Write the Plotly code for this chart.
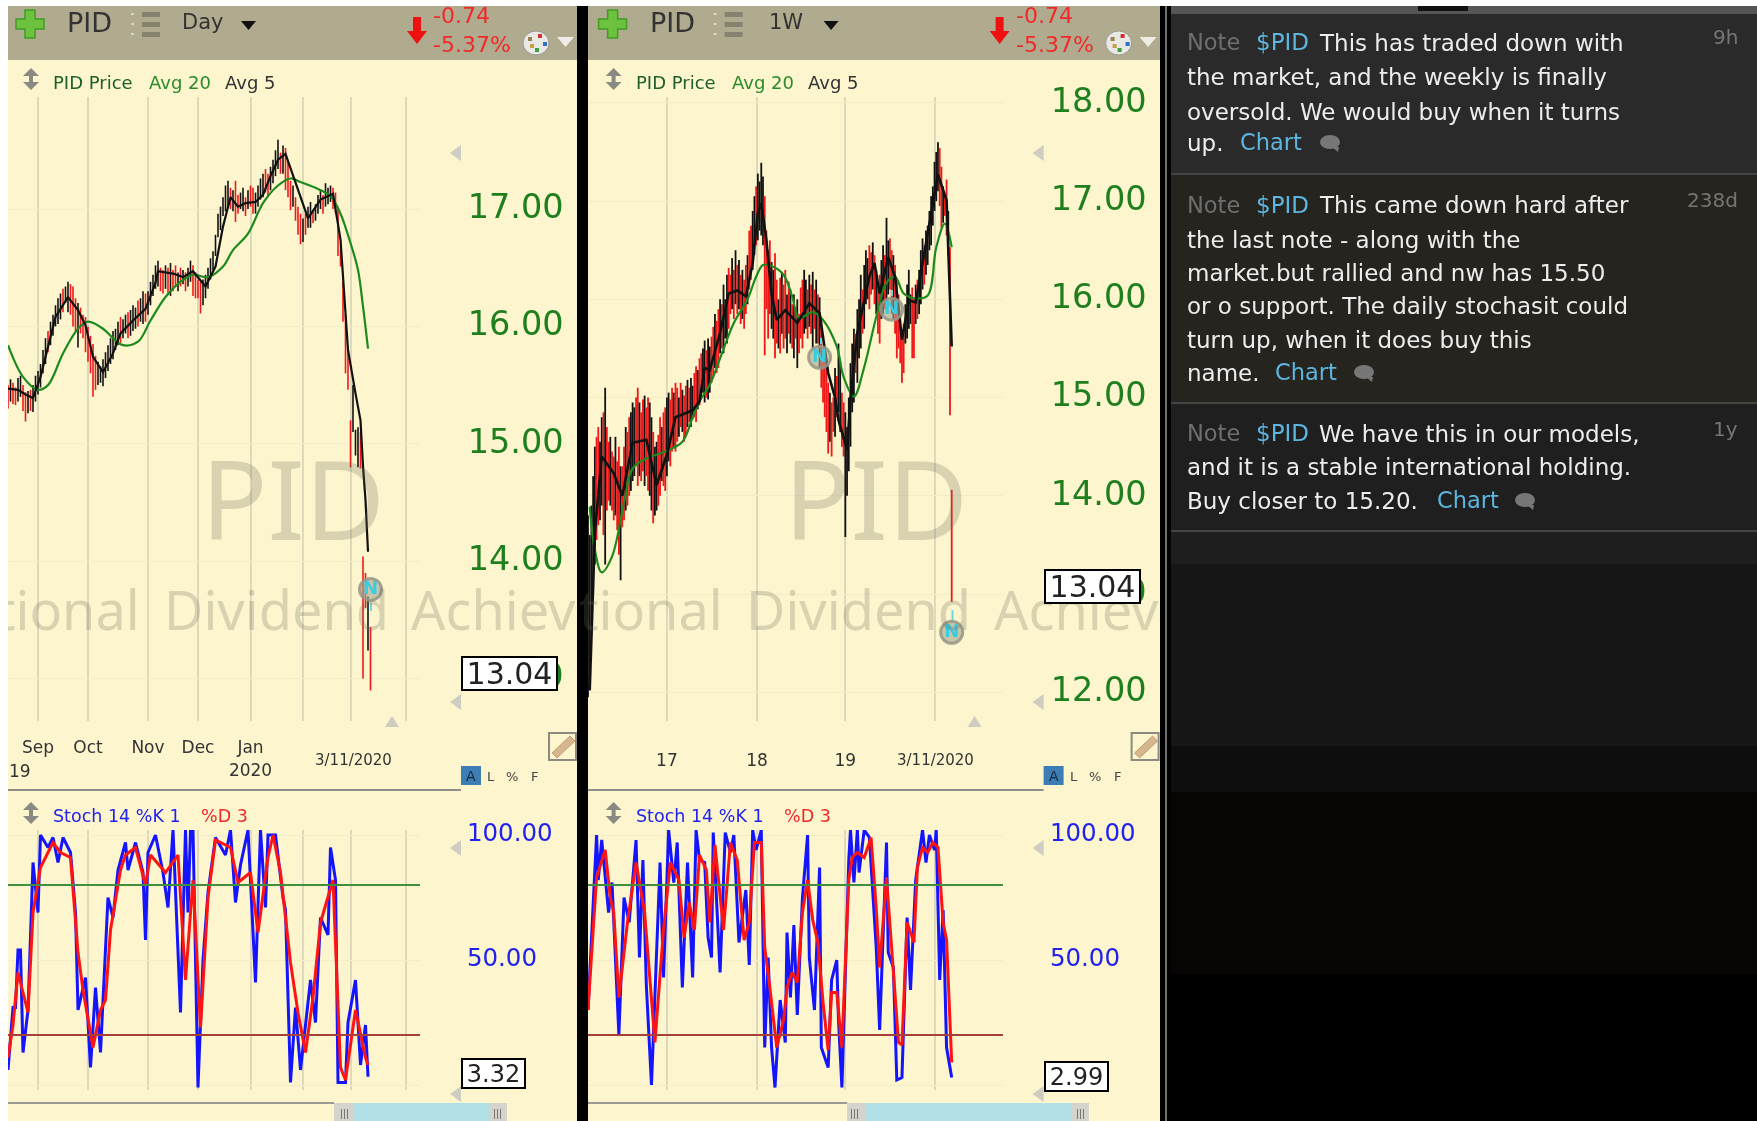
import plotly.graph_objects as go

W, H = 1757, 1121

# ---------- daily chart data (session number, price) ----------
day_high = [15.50,15.55,15.52,15.48,15.56,15.58,15.50,15.44,15.45,15.46,
            15.50,15.58,15.62,15.68,15.80,15.90,15.96,16.04,16.10,16.18,
            16.24,16.28,16.32,16.34,16.38,16.36,16.34,16.24,16.20,16.16,
            16.10,16.08,16.00,15.92,15.85,15.75,15.70,15.66,15.72,15.78,
            15.84,15.90,15.96,15.98,16.04,16.08,16.06,16.10,16.12,16.14,
            16.18,16.16,16.22,16.24,16.30,16.28,16.30,16.38,16.44,16.52,
            16.56,16.50,16.48,16.52,16.50,16.54,16.48,16.52,16.46,16.50,
            16.48,16.46,16.50,16.56,16.52,16.46,16.40,16.38,16.40,16.44,
            16.50,16.58,16.64,16.78,16.96,17.02,17.10,17.20,17.24,17.18,
            17.16,17.24,17.12,17.14,17.18,17.10,17.16,17.20,17.18,17.14,
            17.20,17.26,17.30,17.34,17.30,17.36,17.42,17.50,17.59,17.48,
            17.54,17.52,17.40,17.24,17.20,17.10,17.02,16.96,16.92,16.96,
            17.02,17.06,16.98,17.04,17.12,17.16,17.12,17.22,17.18,17.20,
            17.18,17.14,17.02,16.66,16.38,16.10,15.82,15.20,15.50,15.12,
            15.14,15.10,14.04,13.90,13.70,13.44]
day_low = [15.30,15.36,15.34,15.33,15.36,15.40,15.28,15.19,15.26,15.28,
           15.27,15.36,15.42,15.48,15.60,15.68,15.78,15.84,15.92,16.00,
           16.02,16.06,16.12,16.20,16.12,16.10,16.00,15.96,15.82,15.94,
           15.90,15.78,15.70,15.60,15.40,15.46,15.50,15.52,15.49,15.56,
           15.62,15.68,15.72,15.80,15.84,15.86,15.90,15.94,15.90,15.92,
           15.96,15.98,16.00,16.04,16.02,16.04,16.10,16.18,16.26,16.32,
           16.34,16.30,16.28,16.32,16.28,16.26,16.30,16.34,16.30,16.34,
           16.36,16.30,16.34,16.38,16.26,16.24,16.24,16.11,16.18,16.24,
           16.32,16.40,16.48,16.60,16.76,16.82,16.94,16.98,17.02,17.00,
           16.98,16.89,16.96,17.00,16.98,16.94,17.00,17.02,16.96,16.96,
           17.02,17.08,17.10,17.14,17.10,17.16,17.22,17.28,17.34,17.30,
           17.30,17.16,17.10,16.99,17.02,16.90,16.78,16.70,16.72,16.78,
           16.84,16.84,16.88,16.90,16.96,17.00,16.96,17.02,17.04,17.06,
           17.00,16.96,16.60,16.51,16.04,15.60,15.46,14.80,15.10,14.90,
           14.80,14.79,13.00,13.60,13.24,12.90]
day_dir = ("dudduuddud" "uuuuuuduuu" "uuduudddud" "dddddduuuu" "uuuuuduudu"
           "uuduuduuuu" "uddududdud" "uduudddduu" "uuuuuuuuud" "udduududdu"
           "uuudduuuud" "udddudddud" "uuduuuduuu" "ddddddddu" "u" "udddud")

day_avg5_x = [0,4,7,10,13,16,19,24,28,31,34,38,42,45,50,55,59,60,66,70,74,79,83,86,89,
              92,95,99,102,105,108,111,114,116,120,125,130,133,136,139,141,142,143,144]
day_avg5 = [15.47,15.46,15.42,15.39,15.57,15.83,16.08,16.25,16.14,16.01,15.74,15.61,15.77,
            15.94,16.05,16.15,16.37,16.47,16.45,16.42,16.47,16.34,16.51,16.85,17.10,
            17.02,17.05,17.06,17.12,17.28,17.42,17.47,17.28,17.16,16.92,17.08,17.13,16.74,
            15.80,15.43,15.20,14.81,14.52,14.08]
day_avg20_x = [0,6,12,16,22,28,32,38,42,46,52,57,63,69,74,80,86,90,96,102,108,113,117,123,
               129,133,137,140,142,144]
day_avg20 = [15.84,15.57,15.46,15.50,15.77,15.98,16.04,15.98,15.90,15.84,15.87,16.05,16.25,
             16.38,16.44,16.42,16.51,16.65,16.79,17.05,17.20,17.26,17.23,17.18,17.11,16.96,
             16.71,16.48,16.17,15.81]
day_k_x = [0,2,3,4,5,6,8,10,12,13,16,18,20,22,25,27,28,31,33,35,37,40,42,44,47,48,51,54,55,
           56,59,62,64,66,69,71,72,73,74,76,78,80,83,87,89,91,93,96,99,101,103,104,107,110,
           111,113,115,117,121,123,125,128,129,131,132,135,136,139,141,143,144]
day_k = [6,31,31,54,54,13,30,89,69,100,95,99,89,99,93,69,30,43,7,39,13,75,67,86,97,86,97,85,58,
         93,100,85,71,102,29,102,69,102,102,-1,50,77,99,92,102,73,88,102,41,102,71,100,100,75,
         70,1,31,6,42,25,67,60,95,82,1,1,25,42,8,24,3.32]
day_d_x = [0,2,4,8,10,13,18,21,25,28,30,34,37,39,41,45,47,51,55,57,63,68,71,74,77,80,83,89,92,
           97,100,104,106,109,113,116,119,122,125,130,133,135,139,143,144]
day_d = [11,24,45,29,69,87,97,93,91,53,38,15,30,34,62,86,92,95,80,92,85,92,42,82,23,75,98,95,81,
         85,61,91,100,85,49,29,13,35,65,82,7,2,30,11,8]

# ---------- weekly chart data (week number, price) ----------
wk_high = [13.80,13.60,13.90,14.20,14.50,14.60,14.70,14.55,14.80,14.85,
           15.10,14.70,14.55,14.60,14.45,14.40,14.60,14.35,14.50,14.30,
           14.30,14.50,14.70,14.65,14.80,14.85,14.95,14.90,15.00,15.10,
           14.95,14.85,14.98,15.02,14.90,15.00,14.95,14.80,14.65,14.50,
           14.55,14.62,14.80,14.70,14.85,14.90,15.00,15.05,14.98,15.10,
           15.05,15.15,15.10,15.00,15.15,15.08,15.02,15.12,15.18,15.10,
           15.20,15.12,15.25,15.32,15.28,15.40,15.45,15.50,15.58,15.48,
           15.60,15.52,15.62,15.72,15.85,15.78,15.90,16.00,15.95,16.15,
           16.00,16.25,16.32,16.25,16.42,16.30,16.50,16.35,16.40,16.25,
           16.30,16.20,16.35,16.45,16.70,16.75,16.90,17.05,17.15,17.28,
           17.20,17.39,17.25,17.05,16.70,16.50,16.60,16.38,16.30,16.47,
           16.20,16.00,16.22,16.28,16.15,16.30,16.05,16.18,16.10,15.95,
           16.05,15.92,16.00,15.85,16.12,16.20,16.30,16.20,16.10,16.25,
           16.15,16.28,16.10,16.20,16.05,16.02,15.80,15.50,15.40,15.35,
           15.15,15.05,14.95,15.00,15.30,15.22,15.55,15.38,15.05,14.95,
           14.85,14.70,15.00,15.35,15.55,15.70,15.65,15.90,16.00,16.25,
           16.10,16.35,16.50,16.42,16.55,16.48,16.58,16.45,16.30,16.15,
           16.25,16.40,16.55,16.45,16.83,16.60,16.62,16.50,16.45,16.35,
           16.20,16.05,15.85,15.60,15.75,15.95,16.15,16.30,16.05,16.12,
           16.00,16.15,16.20,16.30,16.50,16.62,16.55,16.70,16.75,16.90,
           17.05,17.15,17.40,17.50,17.60,17.54,17.35,17.15,17.05,17.22,
           16.90,16.53,14.06]
wk_low = [11.95,12.02,12.60,13.00,13.30,13.55,13.70,13.75,13.90,13.60,
          13.30,13.85,13.95,13.90,13.85,13.75,13.80,13.65,13.40,13.14,
          13.68,13.75,13.85,13.90,14.00,14.05,14.15,14.20,14.30,14.10,
          14.20,14.15,14.25,14.10,14.20,14.05,14.00,13.85,13.72,13.80,
          13.85,13.90,14.00,14.15,14.10,14.05,14.20,14.35,14.30,14.45,
          14.50,14.45,14.55,14.60,14.70,14.65,14.55,14.60,14.70,14.75,
          14.70,14.78,14.80,14.75,14.88,14.92,15.00,15.05,14.95,15.00,
          14.98,15.05,15.15,15.20,15.30,15.25,15.30,15.45,15.50,15.45,
          15.60,15.55,15.70,15.85,15.90,15.80,15.95,15.85,15.90,15.75,
          15.80,15.70,15.85,15.95,16.10,16.20,16.30,16.45,16.55,16.60,
          16.70,16.65,16.55,15.43,15.90,15.60,15.85,15.70,15.60,15.40,
          15.55,15.50,15.45,15.65,15.50,15.60,15.45,15.65,15.55,15.50,
          15.40,15.60,15.30,15.45,15.60,15.50,15.65,15.70,15.60,15.72,
          15.65,15.50,15.70,15.55,15.55,15.30,15.10,14.95,14.80,14.65,
          14.43,14.55,14.40,14.65,14.60,14.80,14.85,14.65,14.50,14.40,
          13.58,14.00,14.25,14.50,14.85,14.95,15.25,15.15,15.40,15.50,
          15.65,15.70,15.95,16.00,15.90,16.05,16.10,15.95,15.85,15.65,
          15.55,15.80,15.85,15.90,15.95,16.05,16.10,15.85,15.80,15.65,
          15.40,15.50,15.35,15.15,15.25,15.55,15.60,15.70,15.75,15.40,
          15.40,15.75,15.80,15.85,15.95,16.10,16.15,16.25,16.35,16.50,
          16.55,16.75,16.90,17.00,17.10,16.95,16.73,16.78,16.85,16.65,
          16.45,14.82,12.92]
wk_dir = ("uuuuudduud" "uddudduddu" "ddudduuudd" "uddudduudu" "uddudduudd"
          "uddududdud" "uuddudduud" "uudduddudu" "uuddududud" "uddudduudu"
          "uuudddduud" "dududdudud" "ududdduudu" "dudududddd" "dudduduudd"
          "uuuuuuduuu" "duuuddudud" "duuduuddud" "ddddduuuud" "duduuuduuu"
          "uuuuuddudd" "udd")
wk_avg5_x = [1,4,8,15,20,26,34,40,46,51,61,65,68,71,77,82,87,92,96,99,101,104,107,110,115,122,
             129,135,140,144,146,151,153,157,164,167,170,175,179,183,187,191,196,200,204,209,210,212]
wk_avg5 = [12.02,13.62,14.40,14.23,14.00,14.54,14.57,14.11,14.42,14.80,14.87,14.96,15.30,15.28,
           15.66,16.06,16.09,16.03,16.37,16.88,16.98,16.60,16.06,15.79,15.89,15.76,15.96,15.86,
           15.25,15.00,14.77,14.47,14.98,15.66,16.23,16.37,16.06,16.43,16.23,15.59,15.99,15.97,
           16.47,16.88,17.27,17.01,16.47,15.52]
wk_avg20_x = [1,4,8,14,21,26,34,45,55,61,65,71,77,85,93,98,102,107,114,119,123,131,137,145,149,
              155,161,168,174,179,184,191,198,203,208,212]
wk_avg20 = [13.89,13.45,13.22,13.38,13.93,14.28,14.38,14.45,14.55,14.80,14.96,15.13,15.40,15.76,
            16.00,16.23,16.35,16.34,16.25,16.03,15.81,15.87,15.79,15.52,15.21,15.01,15.31,15.82,
            16.17,16.23,16.06,16.01,16.04,16.53,16.77,16.53]
wk_k_x = [0,5,6,8,12,14,18,21,24,28,30,32,34,37,42,44,47,50,52,55,58,61,63,65,68,70,72,73,77,80,
          83,85,88,92,94,96,98,101,103,105,107,109,112,115,116,118,120,122,125,128,129,132,135,
          136,140,142,145,146,148,152,153,155,157,158,161,164,168,170,174,175,178,180,183,186,
          188,191,195,197,199,202,203,205,207,209,212]
wk_k = [30,100,82,98,69,81,20,75,65,98,51,90,40,0,89,43,102,81,97,39,89,43,102,90,89,59,51,101,45,
        101,93,100,57,78,48,102,94,102,15,51,15,-1,34,17,61,35,64,28,75,100,51,30,87,15,7,42,50,26,
        -1,90,102,81,102,85,102,99,55,22,97,53,47,2,3,67,38,82,102,89,100,94,102,42,70,15,2.99]
wk_d_x = [0,5,10,13,15,18,23,28,33,39,44,48,53,56,59,62,65,69,71,74,79,83,87,91,94,97,101,103,106,
          110,114,116,119,122,125,128,131,134,137,140,142,145,148,152,154,157,161,165,168,170,174,
          178,181,183,186,190,192,195,198,201,204,207,209,212]
wk_d = [30,83,94,75,69,35,65,89,69,17,62,89,82,59,73,62,92,86,65,96,62,97,90,58,65,97,97,55,39,15,
        26,39,45,41,69,82,66,57,33,14,37,37,15,82,91,93,91,99,71,47,83,47,17,16,65,57,87,95,93,97,
        95,65,58,9]

# ---------- axes labels and readouts ----------
price_ticks_day = [13, 14, 15, 16, 17]
price_ticks_wk = [12, 13, 14, 15, 16, 17, 18]
stoch_ticks = [0, 50, 100]
stoch_levels = [80, 20]
day_month_pos = [12, 32, 56, 76, 97, 118, 137, 159]
day_month_lbl = ["Sep", "Oct", "Nov", "Dec", "Jan<br>2020", "", "", ""]
wk_year_pos = [46, 98.5, 150, 202]
wk_year_lbl = ["17", "18", "19", ""]
last_price = "13.04"
change_abs = "-0.74"
change_pct = "-5.37%"
day_notes_x, day_notes_y = [145], [13.76]
wk_notes_x, wk_notes_y = [135, 177, 212], [15.41, 15.90, 12.61]

PANEL, HEAD = "#FCF5CD", "#B0AB8E"
SANS = "DejaVu Sans"
GREEN, BLUE, RED = "#1F7F1F", "#2222EE", "#F02A2A"
TICK_CLEAR = "rgba(0,0,0,0)"


def sx(x): return x / W
def sy(y): return 1 - y / H


shapes, notes = [], []


def rect(x0, y0, x1, y1, fill, line=None, lw=0, layer="below"):
    shapes.append(dict(type="rect", xref="paper", yref="paper", x0=sx(x0), x1=sx(x1),
                       y0=sy(y0), y1=sy(y1), fillcolor=fill, layer=layer,
                       line=dict(color=line or fill, width=lw)))


def poly(pts, fill, line=None, lw=0):
    p = "M" + " L".join(f"{sx(a):.5f},{sy(b):.5f}" for a, b in pts) + " Z"
    shapes.append(dict(type="path", xref="paper", yref="paper", path=p, fillcolor=fill,
                       layer="above", line=dict(color=line or fill, width=lw)))


def oval(x0, y0, x1, y1, fill, line=None, lw=0):
    shapes.append(dict(type="circle", xref="paper", yref="paper", x0=sx(x0), x1=sx(x1),
                       y0=sy(y0), y1=sy(y1), fillcolor=fill, layer="above",
                       line=dict(color=line or fill, width=lw)))


def text(x, y, s, size, color, anchor="left", family=SANS, **kw):
    notes.append(dict(xref="paper", yref="paper", x=sx(x), y=sy(y), text=s, showarrow=False,
                      xanchor=anchor, yanchor="middle", font=dict(size=size, color=color, family=family),
                      borderpad=0, **kw))


def box(x0, y0, x1, y1, s, size):
    notes.append(dict(xref="paper", yref="paper", x=sx((x0 + x1) / 2), y=sy((y0 + y1) / 2), text=s,
                      showarrow=False, xanchor="center", yanchor="middle", width=x1 - x0 - 4,
                      height=y1 - y0 - 4, bgcolor="white", bordercolor="black", borderwidth=2,
                      borderpad=0, font=dict(size=size, color="#222", family=SANS)))


# ---------- page frame ----------
rect(8, 6, W, H, "#000000")
rect(8, 6, 577, H, PANEL)
rect(588, 6, 1160, H, PANEL)
rect(8, 6, 577, 60, HEAD)
rect(588, 6, 1160, 60, HEAD)
rect(1165, 6, 1167, H, "#6E6E6E")
# notes column
rect(1171, 6, W, 14, "#555555")
rect(1418, 6, 1468, 11, "#111111")
rect(1171, 14, W, 174, "#2A2A2A")
rect(1171, 174, W, 403, "#26241E")
rect(1171, 403, W, 531, "#1F1F1F")
rect(1171, 531, W, 564, "#1E1E1E")
rect(1171, 564, W, 746, "#161616")
rect(1171, 746, W, 792, "#0E0E0E")
rect(1171, 792, W, 974, "#080404")
for yy in (174, 403, 531):
    rect(1171, yy - 1, W, yy + 1, "#444444")


def chrome(dx, tf, tfx):
    # plus icon
    cx, cy = 30 + dx, 24
    a, b = 14, 5
    poly([(cx - b, cy - a), (cx + b, cy - a), (cx + b, cy - b), (cx + a, cy - b), (cx + a, cy + b),
          (cx + b, cy + b), (cx + b, cy + a), (cx - b, cy + a), (cx - b, cy + b), (cx - a, cy + b),
          (cx - a, cy - b), (cx - b, cy - b)], "#6CC23E", "#3F9D25", 1.5)
    text(66 + dx, 23, "PID", 27, "#333333")
    # list icon
    for yy in (12, 22, 32):
        rect(142 + dx, yy, 160 + dx, yy + 5, "#85836F", layer="above")
        rect(131 + dx, yy + 1, 134 + dx, yy + 3, "#D8D6C6", layer="above")
    text(tfx, 22, tf, 21, "#333333")
    poly([(241 + dx, 21), (256 + dx, 21), (248.5 + dx, 30)], "#111111")
    # red arrow
    ax = 417 + dx
    poly([(ax - 4, 17), (ax + 4, 17), (ax + 4, 31), (ax + 10, 31), (ax, 44), (ax - 10, 31), (ax - 4, 31)],
         "#EE1111")
    text(432 + dx, 16, change_abs, 22, RED)
    text(432 + dx, 44, change_pct, 22, RED)
    # colour wheel + menu arrow
    oval(523 + dx, 31, 549 + dx, 55, "#E8E8E4", "#9A9A90", 1)
    for (qx, qy, col) in ((528, 37, "#A08050"), (538, 34, "#D03030"), (543, 42, "#3070C0"),
                          (535, 48, "#40A040"), (530, 44, "#C8A040")):
        rect(qx + dx, qy, qx + dx + 4, qy + 4, col, layer="above")
    poly([(557 + dx, 37), (574 + dx, 37), (565.5 + dx, 47)], "#EDEDE6")

    def updown(y0):
        poly([(31 + dx, y0), (39 + dx, y0 + 8), (23 + dx, y0 + 8)], "#8A8A84")
        poly([(31 + dx, y0 + 22), (39 + dx, y0 + 14), (23 + dx, y0 + 14)], "#8A8A84")
        rect(29 + dx, y0 + 6, 33 + dx, y0 + 16, "#8A8A84", layer="above")

    updown(68)
    updown(802)
    text(52 + dx, 83, "PID Price", 18, "#1D5F2A")
    text(148 + dx, 83, "Avg 20", 18, "#2B8B2B")
    text(224 + dx, 83, "Avg 5", 18, "#333333")
    text(52 + dx, 816, "Stoch 14 %K 1", 17.5, BLUE)
    text(200 + dx, 816, "%D 3", 17.5, RED)
    # grey side / bottom arrows
    for yc in (153, 702, 848, 1094):
        poly([(461 + dx, yc - 8), (461 + dx, yc + 8), (450 + dx, yc)], "#CFCDC2")
    poly([(385 + dx, 727), (399 + dx, 727), (392 + dx, 716)], "#CFCDC2")
    # pencil
    rect(549 + dx, 733, 576 + dx, 760, "rgba(0,0,0,0)", "#8A8A80", 2, layer="above")
    poly([(552 + dx, 753), (570 + dx, 736), (575 + dx, 741), (557 + dx, 758)], "#D6B68E", "#C49F70", 1)
    # scale switch
    rect(461 + dx, 766, 481 + dx, 785, "#3C7DB5", layer="above")
    text(471 + dx, 776, "A", 14, "#1A2A3A", anchor="center")
    text(486 + dx, 776, "L", 13, "#444444")
    text(505 + dx, 776, "%", 13, "#444444")
    text(530 + dx, 776, "F", 13, "#444444")
    rect(8 + dx if dx == 0 else 588, 789, 461 + dx, 791, "#8F8F88")
    text(dx + 353, 760, "3/11/2020", 15, "#333333", anchor="center")
    wm = "rgba(108,109,93,0.25)"
    text(293 + dx, 497, "PID", 110, wm, anchor="center", family="Noto Sans")
    text(141 + dx, 609, "tional", 54, wm, anchor="right", family="Noto Sans")
    text(276 + dx, 609, "Dividend", 54, wm, anchor="center", family="Noto Sans")
    text(410 + dx, 609, "Achiev", 54, wm, anchor="left", family="Noto Sans")


chrome(0, "Day", 181)
chrome(582.6, "1W", 768)
text(8, 771, "19", 17, "#333333")

# scrollers
rect(8, 1102, 334, 1104, "#9A9A92")
rect(334, 1103, 354, H, "#D4D4CC")
rect(354, 1103, 490, H, "#B0DFE6")
rect(490, 1103, 507, H, "#D4D4CC")
rect(588, 1102, 847, 1104, "#9A9A92")
rect(847, 1103, 866, H, "#D4D4CC")
rect(866, 1103, 1071, H, "#B0DFE6")
rect(1071, 1103, 1089, H, "#D4D4CC")
for gx in (341, 344, 347, 494, 497, 500, 851, 854, 857, 1077, 1080, 1083):
    rect(gx, 1109, gx + 1, 1119, "#777770", layer="above")

# small cyan note stems
for x0, y0, x1, y1 in ((370, 603, 372, 611), (951.5, 610, 953.5, 620), (820, 338, 822, 344), (891, 290, 893, 296)):
    rect(x0, y0, x1, y1, "#6CD6E4", layer="above")

box(461, 656, 558, 691, last_price, 30)
box(1044, 569, 1141, 604, last_price, 30)
box(461, 1058, 526, 1089, "3.32", 24)
box(1044, 1061, 1109, 1092, "2.99", 24)

# ---------- notes column ----------
NOTE, LINK, BODY, AGE = "#6F6F6F", "#5DB6E0", "#EDEDED", "#757575"
L0 = 1185.5
note_rows = [
    (43, ["This has traded down with"], 1318),
    (77, ["the market, and the weekly is finally"], L0),
    (112, ["oversold. We would buy when it turns"], L0),
    (143, ["up."], L0),
    (205, ["This came down hard after"], 1318),
    (240, ["the last note - along with the"], L0),
    (273, ["market.but rallied and nw has 15.50"], L0),
    (306, ["or o support. The daily stochasit could"], L0),
    (340, ["turn up, when it does buy this"], L0),
    (373, ["name."], L0),
    (434, ["We have this in our models,"], 1318),
    (467, ["and it is a stable international holding."], L0),
    (501, ["Buy closer to 15.20."], L0),
]
for yy, ss, xx in note_rows:
    text(xx, yy, ss[0], 23, BODY)
for yy in (42, 205, 433):
    text(L0, yy, "Note", 22.5, NOTE)
    text(1255, yy, "$PID", 23, LINK)
for xx, yy in ((1239, 142), (1274, 372), (1436, 500)):
    text(xx, yy, "Chart", 22.5, LINK)
for xx, yy in ((1330, 142), (1364, 372), (1525, 500)):
    oval(xx - 10, yy - 7, xx + 10, yy + 7, "#777777")
    poly([(xx + 2, yy + 5), (xx + 9, yy + 5), (xx + 8, yy + 10)], "#777777")
text(1739, 37, "9h", 20, AGE, anchor="right")
text(1739, 200, "238d", 20, AGE, anchor="right")
text(1739, 429, "1y", 20, AGE, anchor="right")


# ---------- traces ----------
def ohlc(high, low, dirs, xa, ya, width):
    op = [l if d == "u" else h for h, l, d in zip(high, low, dirs)]
    cl = [h if d == "u" else l for h, l, d in zip(high, low, dirs)]
    return go.Ohlc(x=list(range(len(high))), open=op, high=high, low=low, close=cl, xaxis=xa, yaxis=ya,
                   tickwidth=0, increasing=dict(line=dict(color="#111111", width=width)),
                   decreasing=dict(line=dict(color="#F01818", width=width)), showlegend=False)


def line(x, y, color, width, xa, ya, shape="linear"):
    return go.Scatter(x=x, y=y, mode="lines", xaxis=xa, yaxis=ya, showlegend=False,
                      line=dict(color=color, width=width, shape=shape))


def nmarks(x, y, xa, ya):
    return go.Scatter(x=x, y=y, mode="markers+text", text=["N"] * len(x), textposition="middle center",
                      textfont=dict(color="#35CDE0", size=18, family=SANS, weight="bold"), xaxis=xa, yaxis=ya,
                      showlegend=False, marker=dict(size=22, color="rgba(165,165,145,0.6)",
                                                    line=dict(color="rgba(150,150,135,0.85)", width=3)))


fig = go.Figure()
fig.add_trace(ohlc(day_high, day_low, day_dir, "x", "y", 1.6))
fig.add_trace(line(day_avg20_x, day_avg20, "#1E8A1E", 2.2, "x", "y", "spline"))
fig.add_trace(line(day_avg5_x, day_avg5, "#111111", 2.2, "x", "y"))
fig.add_trace(nmarks(day_notes_x, day_notes_y, "x", "y"))
fig.add_trace(line(day_k_x, day_k, "#1414FF", 3, "x2", "y2"))
fig.add_trace(line(day_d_x, day_d, "#FF1414", 3, "x2", "y2"))
fig.add_trace(ohlc(wk_high, wk_low, wk_dir, "x3", "y3", 1.8))
fig.add_trace(line(wk_avg20_x, wk_avg20, "#1E8A1E", 2.2, "x3", "y3", "spline"))
fig.add_trace(line(wk_avg5_x, wk_avg5, "#111111", 2.6, "x3", "y3"))
fig.add_trace(nmarks(wk_notes_x, wk_notes_y, "x3", "y3"))
fig.add_trace(line(wk_k_x, wk_k, "#1414FF", 3, "x4", "y4"))
fig.add_trace(line(wk_d_x, wk_d, "#FF1414", 3, "x4", "y4"))

for xa in ("x2", "x4"):
    for lvl, col in zip(stoch_levels, ("#3F8F3F", "#A84038")):
        shapes.append(dict(type="line", xref=f"{xa} domain", yref=xa.replace("x", "y"), x0=0, x1=1, y0=lvl,
                           y1=lvl, layer="above", line=dict(color=col, width=2)))

VG, HG = "#DDD9BC", "#F3ECC8"


def xaxis(dom, rng, pos, lbl, ticklen, anchor):
    return dict(domain=[sx(dom[0]), sx(dom[1])], range=rng, tickmode="array", tickvals=pos, ticktext=lbl,
                showgrid=True, gridcolor=VG, gridwidth=1.6, zeroline=False, showline=False, anchor=anchor,
                ticks="outside", ticklen=ticklen, tickcolor=TICK_CLEAR, rangeslider=dict(visible=False),
                tickangle=0, automargin=False, tickfont=dict(size=17, color="#333333", family=SANS))


def yaxis(py0, py1, rng, ticks, lbl, size, color, anchor, ticklen):
    return dict(domain=[sy(py1), sy(py0)], range=rng, tickmode="array", tickvals=ticks, ticktext=lbl,
                side="right", showgrid=True, gridcolor=HG, gridwidth=1, zeroline=False, showline=False,
                anchor=anchor, ticks="outside", ticklen=ticklen, tickcolor=TICK_CLEAR, automargin=False,
                tickfont=dict(size=size, color=color, family=SANS))


fmt = lambda a: [f"{v:.2f}" for v in a]
stoch_lbl = ["", "50.00", "100.00"]
fig.update_layout(
    width=W, height=H, autosize=False, margin=dict(l=0, r=0, t=0, b=0),
    paper_bgcolor="white", plot_bgcolor="rgba(0,0,0,0)", showlegend=False, dragmode=False,
    shapes=shapes, annotations=notes,
    xaxis=xaxis((8, 420), [0, 164.8], day_month_pos, day_month_lbl, 11, "y"),
    yaxis=yaxis(97, 721, [12.639, 17.954], price_ticks_day, fmt(price_ticks_day), 33.5, GREEN, "x", 40),
    xaxis2=xaxis((8, 420), [0, 164.8], day_month_pos, [""] * 8, 1, "y2"),
    yaxis2=yaxis(830, 1090, [-2, 102], stoch_ticks, stoch_lbl, 24.5, BLUE, "x2", 41),
    xaxis3=xaxis((588, 1003), [0, 241.9], wk_year_pos, wk_year_lbl, 24, "y3"),
    yaxis3=yaxis(97, 721, [11.707, 18.06], price_ticks_wk, fmt(price_ticks_wk), 33.5, GREEN, "x3", 40),
    xaxis4=xaxis((588, 1003), [0, 241.9], wk_year_pos, [""] * 4, 1, "y4"),
    yaxis4=yaxis(830, 1090, [-2, 102], stoch_ticks, stoch_lbl, 24.5, BLUE, "x4", 41),
)

fig.write_html("out.html", config=dict(displayModeBar=False),
               post_script="document.body.style.margin='0';document.documentElement.style.overflow='hidden';"
                           "var g=document.getElementById('{plot_id}');g.style.filter='blur(0.7px)';"
                           "g.style.clipPath='inset(6px 0 0 8px)';"
                           "g.querySelectorAll('.ytick text,.y2tick text,.y3tick text,.y4tick text')"
                           ".forEach(function(t){t.setAttribute('dy','-3');});")
